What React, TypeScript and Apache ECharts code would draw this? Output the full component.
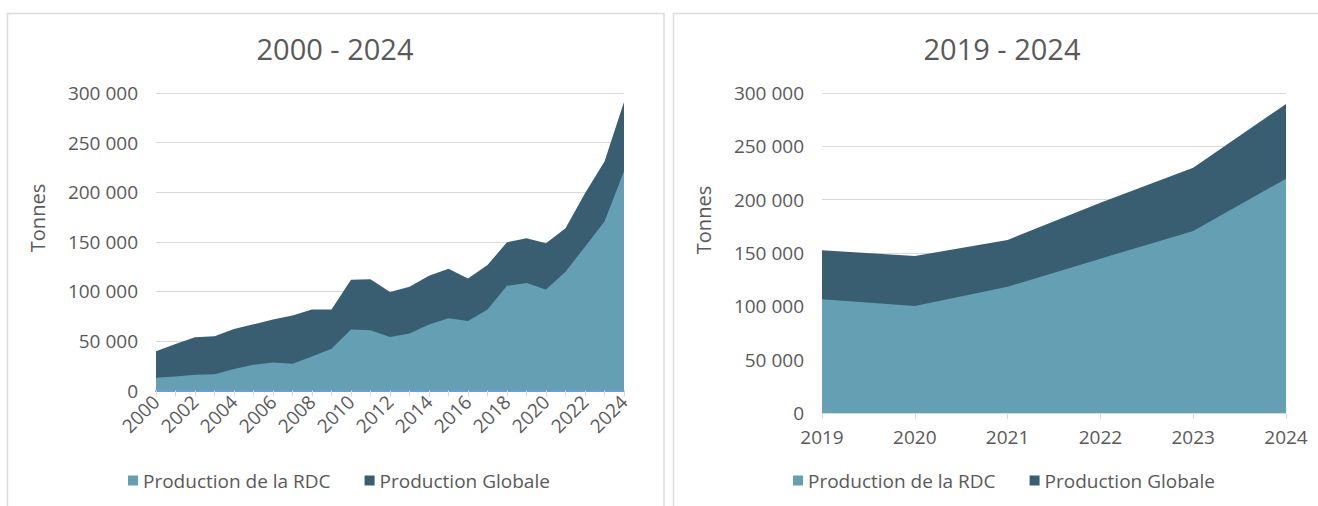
import React, { useEffect, useRef } from "react";
import * as echarts from "echarts";

const yearsLong = ["2000","2001","2002","2003","2004","2005","2006","2007","2008","2009","2010","2011","2012","2013","2014","2015","2016","2017","2018","2019","2020","2021","2022","2023","2024"];
const globalLong = [39500, 46900, 53600, 54700, 62000, 66800, 71500, 75600, 81600, 81600, 111700, 112300, 99300, 104600, 115700, 122800, 113000, 126500, 149500, 153500, 148500, 163600, 199000, 231000, 290800];
const rdcLong = [12800, 14000, 15900, 16500, 21600, 26000, 28300, 27000, 34400, 42200, 61400, 60700, 54000, 57400, 66500, 72900, 70200, 81700, 105600, 108300, 101900, 119800, 145000, 170400, 221000];

const yearsShort = ["2019","2020","2021","2022","2023","2024"];
const globalShort = [152500, 147200, 162200, 197200, 230000, 289700];
const rdcShort = [106600, 100300, 118400, 144700, 170600, 219700];

const titleLong = "2000 - 2024";
const titleShort = "2019 - 2024";
const nameRdc = "Production de la RDC";
const nameGlobal = "Production Globale";
const yName = "Tonnes";

const FONT = "'Open Sans', 'Noto Sans', sans-serif";
const TXT = "#595959";
const GRID = "#d9d9d9";
const C_RDC = "#649fb4";
const C_GLOBAL = "#3a5e71";

const fmt = (v: number) => {
  const s = String(Math.round(v));
  return s.replace(/\B(?=(\d{3})+(?!\d))/g, " ");
};

export default function App() {
  const ref = useRef<HTMLDivElement>(null);
  useEffect(() => {
    document.body.style.margin = "0";
    const chart = echarts.init(ref.current!, null, { renderer: "svg" });
    const yAxisBase = (idx: number) => ({
      type: "value",
      gridIndex: idx,
      min: 0,
      max: 300000,
      interval: 50000,
      axisLine: { show: false },
      axisTick: { show: false },
      axisLabel: { color: TXT, fontSize: 19, fontFamily: FONT, margin: 18, formatter: fmt },
      splitLine: { lineStyle: { color: GRID, width: 1 } },
    });
    const areaSeries = (name: string, data: number[], color: string, idx: number, z: number) => ({
      type: "line",
      name,
      xAxisIndex: idx,
      yAxisIndex: idx,
      data,
      showSymbol: false,
      symbol: "none",
      lineStyle: { width: 0 },
      itemStyle: { color },
      areaStyle: { color, opacity: 1 },
      z,
    });
    const legendBase = (left: number) => ({
      left,
      top: 471,
      padding: 0,
      icon: "rect",
      itemWidth: 10,
      itemHeight: 10,
      itemGap: 34,
      textStyle: { color: TXT, fontSize: 19, fontFamily: FONT },
      data: [nameRdc, nameGlobal],
      selectedMode: false,
    });
    const vText = (x: number, y: number) => ({
      type: "text",
      x,
      y,
      rotation: Math.PI / 2,
      style: { text: yName, fill: TXT, fontSize: 20, fontFamily: FONT, align: "center", verticalAlign: "middle" },
      silent: true,
    });
    chart.setOption({
      animation: false,
      backgroundColor: "#ffffff",
      textStyle: { fontFamily: FONT },
      graphic: [
        { type: "rect", shape: { x: 7.5, y: 13.5, width: 656.5, height: 520 }, style: { fill: "none", stroke: "#dcdcdc", lineWidth: 1.5 }, silent: true },
        { type: "rect", shape: { x: 673.5, y: 13.5, width: 700, height: 520 }, style: { fill: "none", stroke: "#dcdcdc", lineWidth: 1.5 }, silent: true },
        { type: "text", x: 335, y: 48, style: { text: titleLong, fill: TXT, fontSize: 29, fontFamily: FONT, align: "center", verticalAlign: "middle" }, silent: true },
        { type: "text", x: 1002, y: 48, style: { text: titleShort, fill: TXT, fontSize: 29, fontFamily: FONT, align: "center", verticalAlign: "middle" }, silent: true },
        vText(37, 218),
        vText(703, 220),
      ],
      grid: [
        { left: 156, top: 93, width: 468, height: 297.5 },
        { left: 822, top: 93, width: 464, height: 320 },
      ],
      xAxis: [
        {
          type: "category",
          gridIndex: 0,
          z: 10,
          data: yearsLong,
          boundaryGap: false,
          axisLine: { lineStyle: { color: "#6b9fdc", width: 2 } },
          axisTick: { show: true, interval: 0, length: 6, lineStyle: { color: GRID } },
          axisLabel: { interval: 1, rotate: 45, color: TXT, fontSize: 19, fontFamily: FONT, margin: 8 },
          splitLine: { show: false },
        },
        {
          type: "category",
          gridIndex: 1,
          z: 10,
          data: yearsShort,
          boundaryGap: false,
          axisLine: { lineStyle: { color: GRID, width: 1 } },
          axisTick: { show: true, interval: 0, length: 6, lineStyle: { color: GRID } },
          axisLabel: { interval: 0, color: TXT, fontSize: 19, fontFamily: FONT, margin: 14 },
          splitLine: { show: false },
        },
      ],
      yAxis: [yAxisBase(0), yAxisBase(1)],
      legend: [legendBase(128), legendBase(793)],
      series: [
        areaSeries(nameGlobal, globalLong, C_GLOBAL, 0, 2),
        areaSeries(nameRdc, rdcLong, C_RDC, 0, 3),
        areaSeries(nameGlobal, globalShort, C_GLOBAL, 1, 2),
        areaSeries(nameRdc, rdcShort, C_RDC, 1, 3),
      ],
    });
    return () => chart.dispose();
  }, []);
  return <div ref={ref} style={{ width: 1318, height: 506 }} />;
}
